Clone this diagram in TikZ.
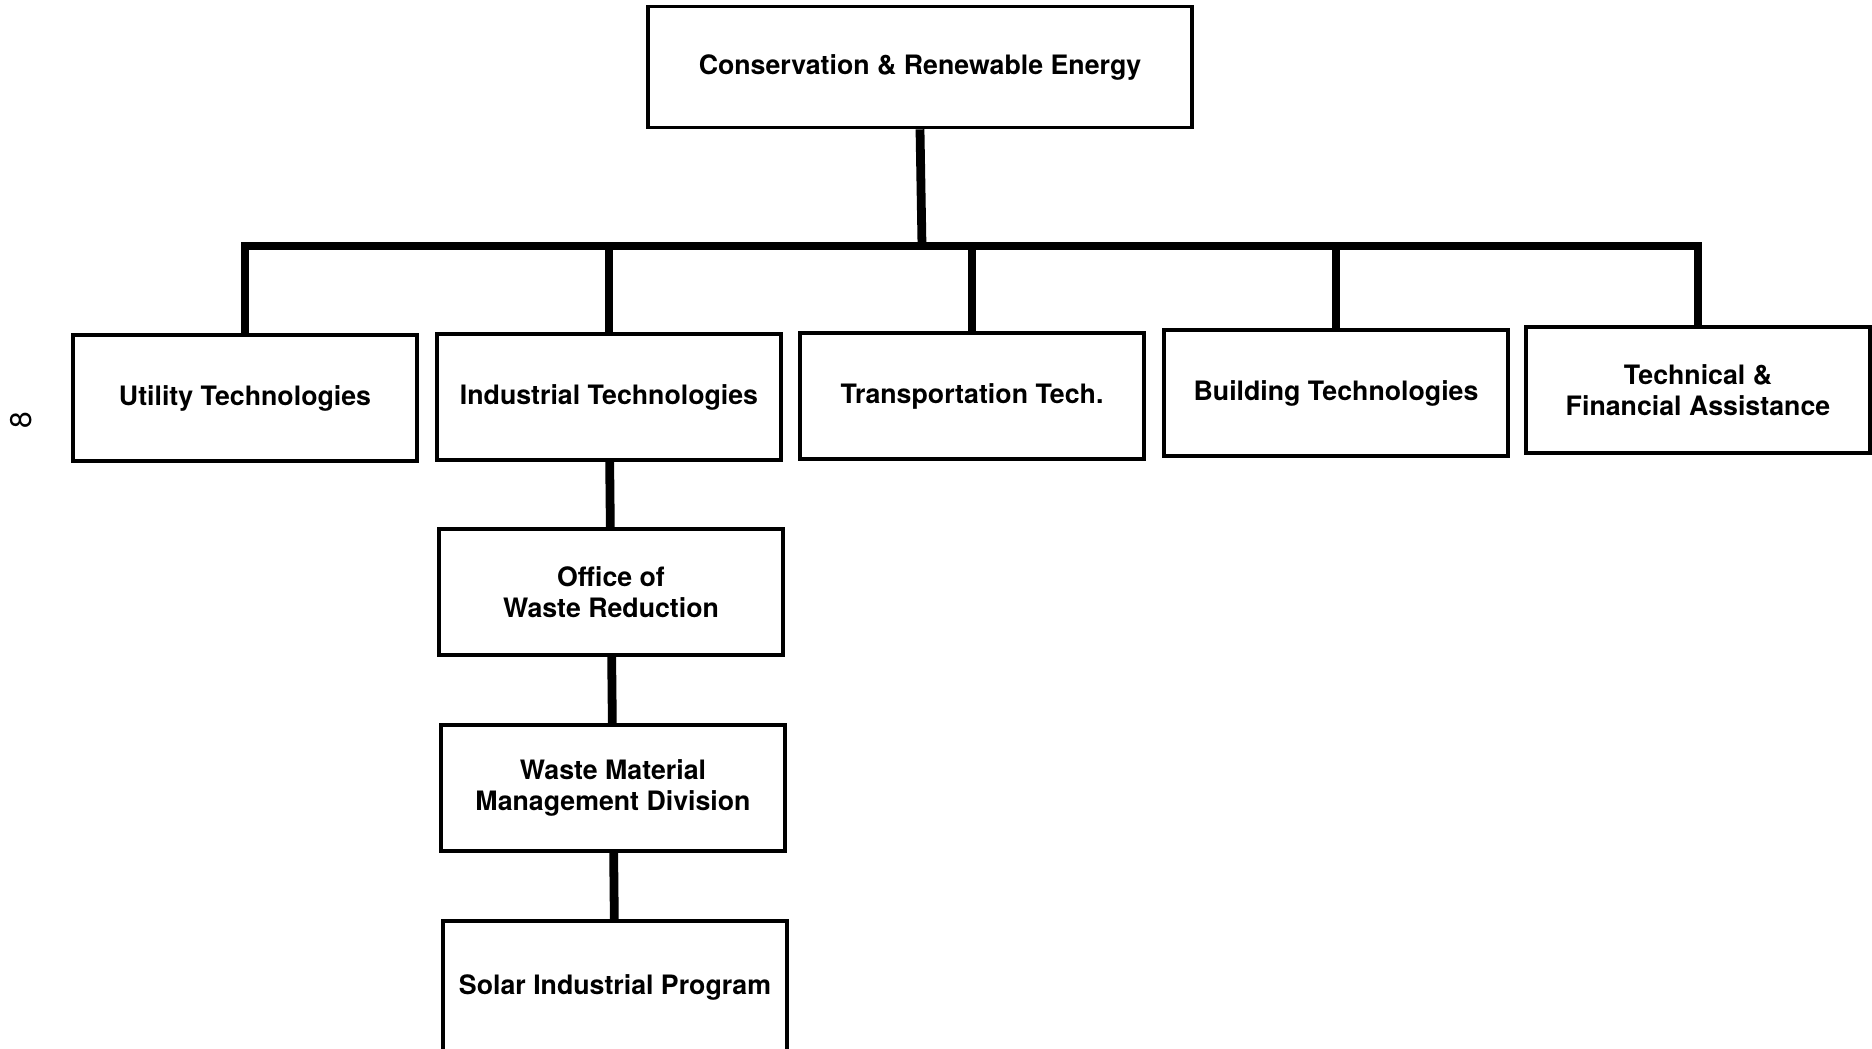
\documentclass[tikz,border=0pt]{standalone}
\usepackage{fontspec}
\setmainfont{TeX Gyre Heros}
\usetikzlibrary{positioning}

\tikzset{
  unitbox/.style={draw,line width=1pt,minimum width=3.44cm,minimum height=1.26cm,
    inner sep=0pt,align=center,font=\fontsize{7.6}{8.8}\selectfont\bfseries},
  link/.style={line width=2.5pt}
}

\begin{document}
\begin{tikzpicture}[x=0.01cm,y=-0.01cm]
\useasboundingbox (0,0) rectangle (1872,1048);

\node[unitbox,minimum width=5.44cm,minimum height=1.21cm] (cre) at (920,67) {Conservation \& Renewable Energy};

\node[unitbox] (util) at (245,398) {Utility Technologies};
\node[unitbox] (indus) at (609,397) {Industrial Technologies};
\node[unitbox] (trans) at (972,396) {Transportation Tech.};
\node[unitbox] (build) at (1336,393) {Building Technologies};
\node[unitbox] (techfin) at (1698,390) {Technical \&\\Financial Assistance};

\node[unitbox] (owr) at (611,592) {Office of\\Waste Reduction};
\node[unitbox] (wmmd) at (613,788) {Waste Material\\Management Division};
\node[unitbox,minimum height=1.32cm] (sip) at (615,987) {Solar Industrial Program};

\node[rotate=90,font=\fontsize{8.5}{10}\selectfont] (pagenum) at (21,420) {8};

\coordinate (hub) at (922,246);
\draw[link] (cre.south) -- (hub);
\draw[link] (util.north) -- (util.north |- hub) -- (techfin.north |- hub) -- (techfin.north);
\foreach \n in {indus,trans,build}
  \draw[link] (\n.north) -- (\n.north |- hub);

\draw[link] (indus) -- (owr);
\draw[link] (owr) -- (wmmd);
\draw[link] (wmmd) -- (sip);
\end{tikzpicture}
\end{document}
